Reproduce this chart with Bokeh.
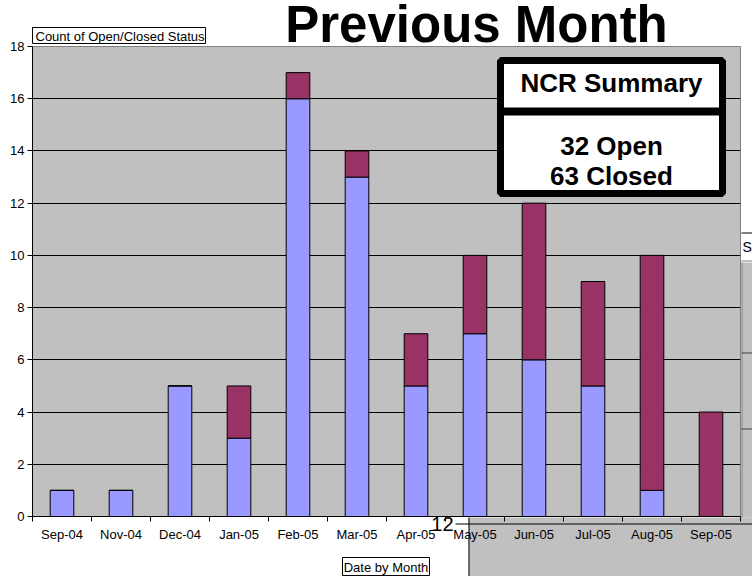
from bokeh.plotting import figure
from bokeh.models import Range1d, FixedTicker, Label, BoxAnnotation
from bokeh.core.properties import value
from bokeh.embed import file_html
from bokeh.resources import INLINE

# ---- data ----
months = ["Sep-04", "Nov-04", "Dec-04", "Jan-05", "Feb-05", "Mar-05",
          "Apr-05", "May-05", "Jun-05", "Jul-05", "Aug-05", "Sep-05"]
closed = [1, 1, 5, 3, 16, 13, 5, 7, 6, 5, 1, 0]   # blue, bottom
open_ = [0, 0, 0, 2, 1, 1, 2, 3, 6, 4, 9, 4]      # maroon, top
y_ticks = [0, 2, 4, 6, 8, 10, 12, 14, 16, 18]

FONT = "Liberation Sans"
n = len(months)
centers = [i + 0.5 for i in range(n)]
bounds = [float(i) for i in range(n + 1)]

p = figure(width=752, height=576, output_backend="svg", toolbar_location=None,
           x_range=Range1d(0, n), y_range=Range1d(0, 18),
           min_border_left=32, min_border_right=12, min_border_top=46,
           min_border_bottom=60)
p.background_fill_color = "#C0C0C0"
p.border_fill_color = "white"
p.outline_line_color = "#808080"
p.outline_line_width = 1

src = dict(x=centers, closed=closed, open=open_)
p.vbar_stack(["closed", "open"], x="x", width=0.4, source=src,
             color=["#9999FF", "#993366"], line_color="black", line_width=1)

# grids
p.xgrid.visible = False
p.ygrid.ticker = FixedTicker(ticks=y_ticks)
p.ygrid.grid_line_color = "black"
p.ygrid.grid_line_width = 1

# y axis
ya = p.yaxis[0]
ya.ticker = FixedTicker(ticks=y_ticks)
ya.axis_line_color = "black"
ya.major_tick_out = 5
ya.major_tick_in = 0
ya.minor_tick_line_color = None
ya.major_label_standoff = 3
ya.major_label_text_font = FONT
ya.major_label_text_font_size = "13px"
ya.major_label_text_color = "black"
ya.level = "overlay"

# x axis
xa = p.xaxis[0]
xa.ticker = FixedTicker(ticks=centers, minor_ticks=bounds)
xa.major_label_overrides = {c: m for c, m in zip(centers, months)}
xa.axis_line_color = "black"
xa.major_tick_out = 0
xa.major_tick_in = 0
xa.minor_tick_out = 5
xa.minor_tick_in = 0
xa.minor_tick_line_color = "black"
xa.major_label_standoff = 5
xa.major_label_text_font = FONT
xa.major_label_text_font_size = "13px"
xa.major_label_text_color = "black"
xa.level = "overlay"

# pixel helpers (frame: x 32..740, y 46..516)
def dx(px):
    return (px - 32) / 59.0

def dy(py):
    return (516 - py) / (470 / 18.0)

LV = "annotation"

def rect_px(l, r, t, b, fill, line=None, lw=1, level=LV):
    p.quad(left=[dx(l)], right=[dx(r)], top=[dy(t)], bottom=[dy(b)],
           fill_color=fill, line_color=line, line_width=lw, level=level)

def text_px(x, y, s, size, align="left", baseline="middle", bold=False,
            level=LV):
    p.text(x=[dx(x)], y=[dy(y)], text=[s], text_font=value(FONT),
           text_font_size=size, text_font_style="bold" if bold else "normal",
           text_color="black", text_align=align, text_baseline=baseline,
           level=level)

# ---- background artifacts (overlapping window behind) ----
rect_px(468, 752, 517, 576, "#C0C0C0")
rect_px(468, 469, 517, 576, "black")
rect_px(455, 752, 523, 524, "black")
text_px(453, 523, "12", "20px", align="right")
rect_px(741, 752, 262, 517, "#C0C0C0")
rect_px(741, 742, 262, 517, "#808080")
rect_px(741, 752, 352, 353, "#404040")
rect_px(741, 752, 428, 429, "#404040")
rect_px(741, 752, 232, 233, "black")
rect_px(741, 752, 260, 261, "#808080")
text_px(742, 246, "S", "14px")

# ---- titles / labels ----
text_px(476, 24, "Previous Month", "51px", align="center",
        baseline="middle", bold=True, level="overlay")
rect_px(32, 205, 27, 43, "white", line="black", level="overlay")
text_px(35, 35.5, "Count of Open/Closed Status", "13px", level="overlay")
rect_px(342, 429, 557, 575, "white", line="black", level="overlay")
text_px(385.5, 566.5, "Date by Month", "13px", align="center", level="overlay")

# ---- NCR summary box ----
bl, br, bt, bb = dx(500), dx(722), dy(60), dy(193)
p.add_layout(BoxAnnotation(left=bl, right=br, top=bt, bottom=bb,
                           fill_color="white", fill_alpha=1,
                           line_color="black", line_width=7, line_alpha=1))
p.add_layout(BoxAnnotation(left=bl, right=br, top=dy(107), bottom=dy(115),
                           fill_color="black", fill_alpha=1, line_color=None))
cx = (bl + br) / 2
p.add_layout(Label(x=cx, y=dy(82), text="NCR Summary", text_font=FONT,
                   text_font_style="bold", text_font_size="26px",
                   text_color="black",
                   text_align="center", text_baseline="middle"))
p.add_layout(Label(x=cx, y=dy(145), text=f"{sum(open_)} Open", text_font=FONT,
                   text_font_style="bold", text_font_size="26px",
                   text_color="black",
                   text_align="center", text_baseline="middle"))
p.add_layout(Label(x=cx, y=dy(175), text=f"{sum(closed)} Closed", text_font=FONT,
                   text_font_style="bold", text_font_size="26px",
                   text_color="black",
                   text_align="center", text_baseline="middle"))

open("out.html", "w").write(file_html(p, INLINE))
